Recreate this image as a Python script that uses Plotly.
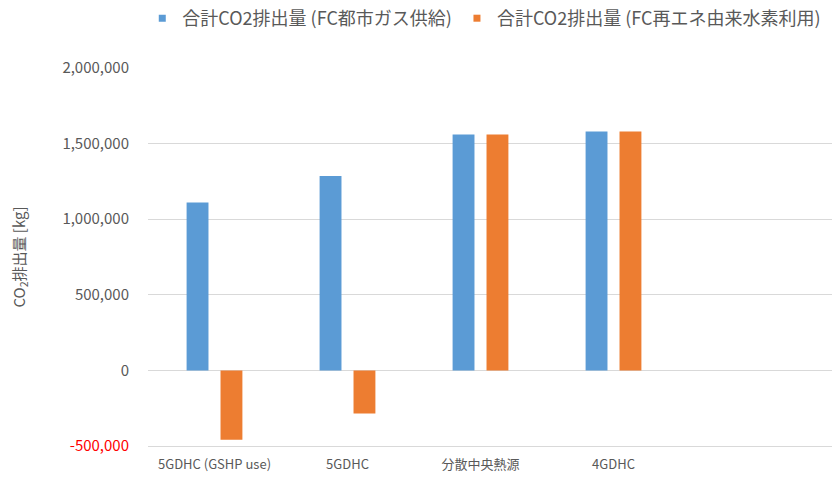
import plotly.graph_objects as go

# Systems compared
categories = ["5GDHC (GSHP use)", "5GDHC", "分散中央熱源", "4GDHC"]

# Total CO2 emissions [kg]
series_names = ["合計CO2排出量 (FC都市ガス供給)", "合計CO2排出量 (FC再エネ由来水素利用)"]
gas_supply = [1110000, 1285000, 1560000, 1580000]
renewable_h2 = [-458000, -285000, 1560000, 1580000]

# Y axis ticks
y_tickvals = [-500000, 0, 500000, 1000000, 1500000, 2000000]
y_ticktext = ["-500,000", "0", "500,000", "1,000,000", "1,500,000", "2,000,000"]

BLUE = "#5B9BD5"
ORANGE = "#ED7D31"
TEXT = "#595959"
GRID = "#D9D9D9"
FONT = "Noto Sans CJK JP"

# negative values shown in red, as in the spreadsheet number format
tick_labels = [
    f'<span style="color:#FF0000">{t}</span>' if v < 0 else t
    for v, t in zip(y_tickvals, y_ticktext)
]

fig = go.Figure()
for name, vals, color in [(series_names[0], gas_supply, BLUE),
                          (series_names[1], renewable_h2, ORANGE)]:
    fig.add_trace(go.Bar(x=categories, y=vals, name=name,
                         marker=dict(color=color, line=dict(width=0)),
                         showlegend=False))
    # small square legend keys
    fig.add_trace(go.Scatter(x=[None], y=[None], mode="markers", name=name,
                             marker=dict(symbol="square", size=7, color=color),
                             showlegend=True))

fig.update_layout(
    width=832, height=486,
    margin=dict(l=148, r=0, t=68, b=40),
    paper_bgcolor="white", plot_bgcolor="white",
    font=dict(family=FONT, color=TEXT, size=12),
    barmode="group", bargap=0.49, bargroupgap=0.355,
    legend=dict(orientation="h", x=0.171, xanchor="left", xref="container",
                y=1.0, yref="container", yanchor="top",
                font=dict(size=18, color=TEXT), itemwidth=30,
                traceorder="normal"),
)
fig.update_xaxes(
    type="category", range=[-0.5, -0.5 + 684 / 133],
    showgrid=False, showline=True, linecolor=GRID, linewidth=1,
    ticks="", tickfont=dict(size=13, color=TEXT), ticklabelstandoff=6,
    zeroline=False,
)
fig.update_yaxes(
    range=[-500000, 2000000],
    tickvals=y_tickvals, ticktext=tick_labels,
    showgrid=True, gridcolor=GRID, gridwidth=1,
    zeroline=True, zerolinecolor=GRID, zerolinewidth=1,
    tickfont=dict(size=15, color=TEXT), ticklabelstandoff=18,
    title=dict(text="CO<sub>2</sub>排出量 [kg]", font=dict(size=15, color=TEXT),
               standoff=33),
)

fig.write_html("out.html")
